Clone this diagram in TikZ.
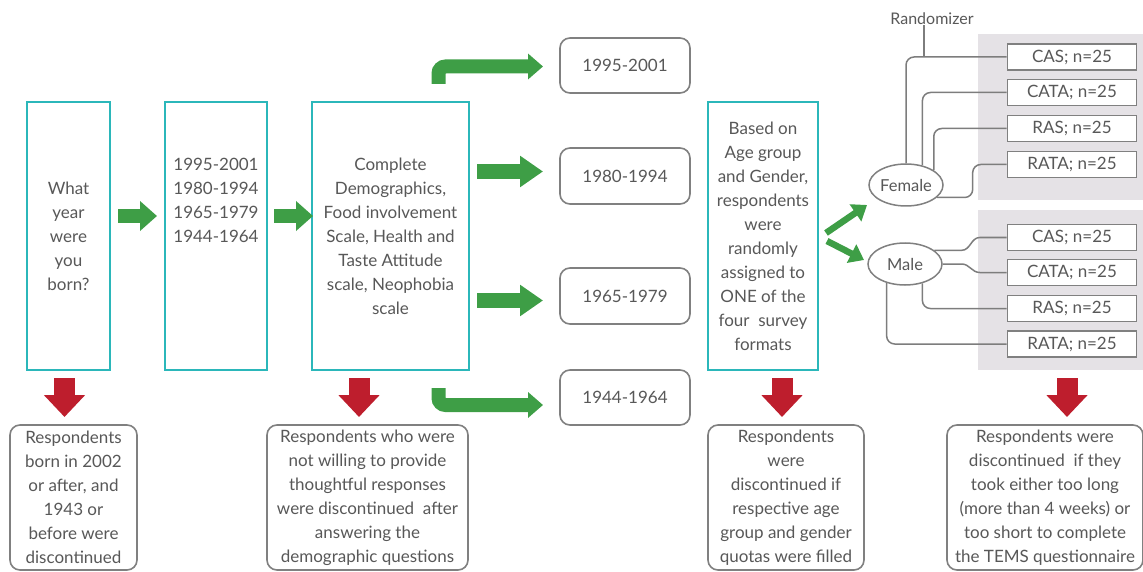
\documentclass[tikz,border=0pt]{standalone}
\usepackage{fontspec}
\setmainfont{Lato}
\usetikzlibrary{arrows.meta,shapes.geometric}
\definecolor{tealc}{RGB}{43,183,186}
\definecolor{txt}{RGB}{88,88,88}
\definecolor{bord}{RGB}{128,128,128}
\definecolor{grn}{RGB}{62,158,70}
\definecolor{rd}{RGB}{190,30,45}
\definecolor{panelc}{RGB}{229,226,230}
\definecolor{connc}{RGB}{125,125,125}
\begin{document}
\begin{tikzpicture}[x=1pt,y=-1pt,
  every node/.style={text=txt, font=\fontsize{17}{24}\selectfont, inner sep=0pt, align=center},
  tealbox/.style={draw=tealc, line width=2pt, fill=white},
  roundbox/.style={draw=bord, line width=1.6pt, rounded corners=10pt, fill=white},
  smallbox/.style={draw=bord, line width=1.6pt, fill=white, minimum width=129pt, minimum height=26pt},
  panelbox/.style={fill=panelc, minimum width=165pt},
  genderell/.style={ellipse, draw=bord, line width=1.5pt, fill=white, minimum width=74pt, minimum height=42pt, font=\fontsize{16.5}{20}\selectfont},
  conn/.style={draw=connc, line width=1.5pt, rounded corners=8pt},
  greenarr/.style={draw=grn, line width=14pt, -{Triangle[length=17pt,width=29pt]}},
  greenbig/.style={draw=grn, line width=15pt, -{Triangle[length=23pt,width=30pt]}},
  greenbent/.style={draw=grn, line width=14pt, rounded corners=7pt, -{Triangle[length=15pt,width=25pt]}},
  greendiag/.style={draw=grn, line width=6.5pt, -{Triangle[length=14pt,width=20pt]}},
  redarr/.style={draw=rd, line width=21pt, -{Triangle[length=22pt,width=40pt]}}
]
\useasboundingbox (0,0) rectangle (1143,572);

% gray panels
\node[panelbox, minimum height=166pt] (P1) at (1060.5,117) {};
\node[panelbox, minimum height=160pt] (P2) at (1060.5,290) {};

% main teal boxes
\node[tealbox, minimum width=83pt, minimum height=268pt] (b1) at (68.5,236) {What\\year\\were\\you\\born?};
\node[tealbox, minimum width=102pt, minimum height=268pt] (b2) at (216,236) {};
\node (b2t) at (216,200) {1995-2001\\1980-1994\\1965-1979\\1944-1964};
\node[tealbox, minimum width=157pt, minimum height=268pt] (b3) at (390.5,236) {Complete\\Demographics,\\Food involvement\\Scale, Health and\\Taste Attitude\\scale, Neophobia\\scale};
\node[tealbox, minimum width=110pt, minimum height=268pt] (b4) at (763,236) {Based on\\Age group\\and Gender,\\respondents\\were\\randomly\\assigned to\\ONE of the\\four\ \ survey\\formats};

% age group boxes
\node[roundbox, minimum width=130pt, minimum height=55pt] (y1) at (625,65.5) {1995-2001};
\node[roundbox, minimum width=130pt, minimum height=56pt] (y2) at (625,176) {1980-1994};
\node[roundbox, minimum width=130pt, minimum height=56pt] (y3) at (625,296) {1965-1979};
\node[roundbox, minimum width=130pt, minimum height=55pt] (y4) at (625,397.5) {1944-1964};

% bottom boxes
\node[roundbox, minimum width=127pt, minimum height=145pt] (d1) at (73.5,497.5) {Respondents\\born in 2002\\or after, and\\1943 or\\before were\\discontinued};
\node[roundbox, minimum width=201pt, minimum height=145pt] (d2) at (367.5,497.5) {Respondents who were\\not willing to provide\\thoughtful responses\\were discontinued\ \ after\\answering the\\demographic questions};
\node[roundbox, minimum width=156pt, minimum height=145pt] (d3) at (786,497.5) {Respondents\\were\\discontinued if\\respective age\\group and gender\\quotas were filled};
\node[roundbox, minimum width=196pt, minimum height=145pt] (d4) at (1045,497.5) {Respondents were\\discontinued\ \ if they\\took either too long\\(more than 4 weeks) or\\too short to complete\\the TEMS questionnaire};

% randomizer, gender ellipses
\node[font=\fontsize{16}{20}\selectfont] (R) at (932,19) {Randomizer};
\node[genderell] (F) at (906,185) {Female};
\node[genderell] (M) at (905,264) {Male};

% format boxes
\node[smallbox] (c1) at (1072,57) {CAS; n=25};
\node[smallbox] (c2) at (1072,92.5) {CATA; n=25};
\node[smallbox] (c3) at (1072,128.5) {RAS; n=25};
\node[smallbox] (c4) at (1072,164.5) {RATA; n=25};
\node[smallbox] (c5) at (1072,237.5) {CAS; n=25};
\node[smallbox] (c6) at (1072,272.5) {CATA; n=25};
\node[smallbox] (c7) at (1072,308.5) {RAS; n=25};
\node[smallbox] (c8) at (1072,344) {RATA; n=25};

% connectors female
\coordinate (rj) at (924,57);
\draw[conn] (R.south -| rj) -- (rj);
\draw[conn] (F.north) |- (c1.west);
\draw[conn] (F.50) |- (c2.west);
\draw[conn] (F.28) |- (c3.west);
\draw[conn] (F.-22) -| ([xshift=-34pt]c4.west) -- (c4.west);
% connectors male
\draw[connc, line width=1.5pt] (M.25) -- ([xshift=-45pt]c5.west |- M.25) to[out=0,in=180] ([xshift=-27pt]c5.west) -- (c5.west);
\draw[connc, line width=1.5pt] (M.east) -- ([xshift=-45pt]c6.west |- M.east) to[out=0,in=180] ([xshift=-27pt]c6.west) -- (c6.west);
\draw[conn] (M.-48) |- (c7.west);
\draw[conn] (M.-134) |- (c8.west);

% green arrows
\coordinate (g1s) at (118,216);  \coordinate (g1e) at (157,216);
\coordinate (g2s) at (274,216);  \coordinate (g2e) at (313,216);
\coordinate (g3s) at (477,171.5); \coordinate (g3e) at (543,171.5);
\coordinate (g4s) at (477,300.5); \coordinate (g4e) at (543,300.5);
\draw[greenarr] (g1s) -- (g1e);
\draw[greenarr] (g2s) -- (g2e);
\draw[greenbig] (g3s) -- (g3e);
\draw[greenbig] (g4s) -- (g4e);
\coordinate (t1s) at (438.5,84); \coordinate (t1c) at (438.5,66.5); \coordinate (t1e) at (543,66.5);
\coordinate (t2s) at (438.5,388); \coordinate (t2c) at (438.5,405); \coordinate (t2e) at (543,405);
\draw[greenbent] (t1s) -- (t1c) -- (t1e);
\draw[greenbent] (t2s) -- (t2c) -- (t2e);
\coordinate (q1s) at (826,233); \coordinate (q1e) at (867,205);
\coordinate (q2s) at (827,241); \coordinate (q2e) at (864,260);
\draw[greendiag] (q1s) -- (q1e);
\draw[greendiag] (q2s) -- (q2e);

% red arrows
\coordinate (r1) at (64.5,378);  \coordinate (r1e) at (64.5,417);
\coordinate (r2) at (359,378);   \coordinate (r2e) at (359,417);
\coordinate (r3) at (782,378);   \coordinate (r3e) at (782,417);
\coordinate (r4) at (1067,378);  \coordinate (r4e) at (1067,417);
\draw[redarr] (r1) -- (r1e);
\draw[redarr] (r2) -- (r2e);
\draw[redarr] (r3) -- (r3e);
\draw[redarr] (r4) -- (r4e);
\end{tikzpicture}
\end{document}
